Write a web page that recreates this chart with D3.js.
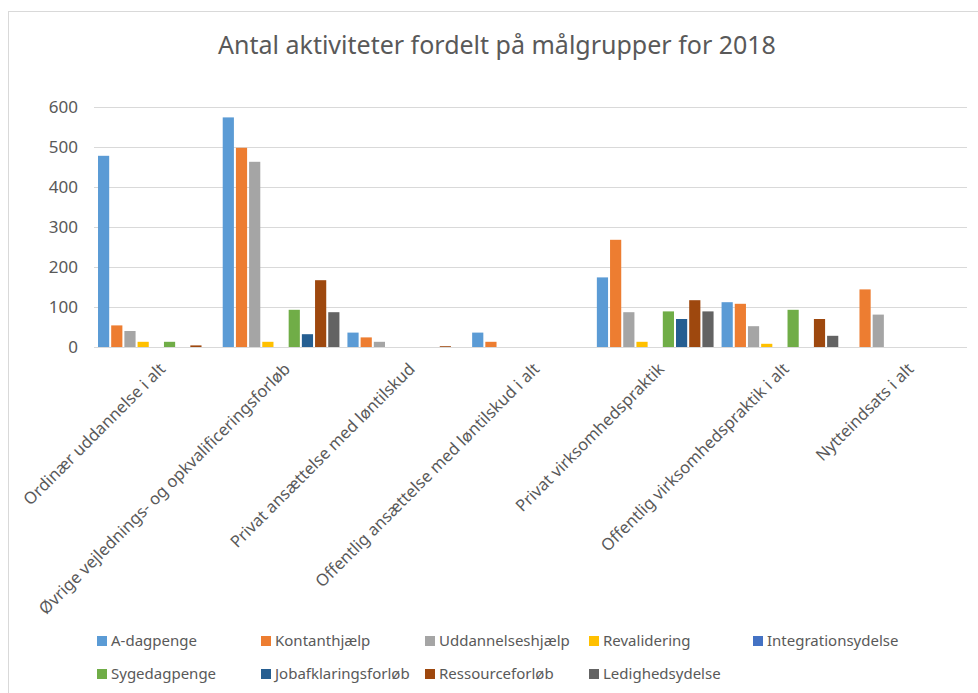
<!DOCTYPE html>
<html>
<head>
<meta charset="utf-8">
<script src="https://cdn.jsdelivr.net/npm/d3@7"></script>
<style>
  body { margin: 0; background: #fff; }
  text { font-family: "Noto Sans", "Open Sans", sans-serif; fill: #595959; }
</style>
</head>
<body>
<div class="chart"></div>
<script>
const categories = [
  "Ordinær uddannelse i alt",
  "Øvrige vejlednings- og opkvalificeringsforløb",
  "Privat ansættelse med løntilskud",
  "Offentlig ansættelse med løntilskud i alt",
  "Privat virksomhedspraktik",
  "Offentlig virksomhedspraktik i alt",
  "Nytteindsats i alt"
];
const seriesNames = ["A-dagpenge", "Kontanthjælp", "Uddannelseshjælp", "Revalidering",
  "Integrationsydelse", "Sygedagpenge", "Jobafklaringsforløb", "Ressourceforløb", "Ledighedsydelse"];
const colors = ["#5B9BD5", "#ED7D31", "#A5A5A5", "#FFC000", "#4472C4", "#70AD47", "#255E91", "#9E480E", "#636363"];

// one array per series, values per category
const aDagpenge        = [478, 574, 36, 36, 174, 112, 0];
const kontanthjaelp    = [54, 498, 24, 13, 268, 108, 144];
const uddannelseshjaelp = [40, 463, 13, 0, 87, 52, 81];
const revalidering     = [13, 13, 0, 0, 13, 8, 0];
const integration      = [0, 0, 0, 0, 0, 0, 0];
const sygedagpenge     = [13, 93, 0, 0, 89, 93, 0];
const jobafklaring     = [0, 32, 0, 0, 70, 0, 0];
const ressource        = [4, 167, 2, 0, 117, 70, 0];
const ledighed         = [0, 87, 0, 0, 89, 28, 0];
const yTicks = [0, 100, 200, 300, 400, 500, 600];

const seriesValues = [aDagpenge, kontanthjaelp, uddannelseshjaelp, revalidering,
  integration, sygedagpenge, jobafklaring, ressource, ledighed];

const width = 978, height = 693;
const plot = { left: 94, right: 967, top: 107, bottom: 347 };

const svg = d3.select(".chart").append("svg")
  .attr("width", width)
  .attr("height", height);

// chart frame
svg.append("rect")
  .attr("x", 8.5).attr("y", 11.5)
  .attr("width", 1000).attr("height", 700)
  .attr("fill", "none").attr("stroke", "#d9d9d9");

svg.append("text")
  .attr("x", 497).attr("y", 54)
  .attr("text-anchor", "middle")
  .style("font-size", "25px")
  .text("Antal aktiviteter fordelt på målgrupper for 2018");

const x = d3.scaleBand()
  .domain(categories)
  .range([plot.left, plot.right])
  .paddingInner(0)
  .paddingOuter(0);

const xInner = d3.scaleBand()
  .domain(seriesNames)
  .range([3, x.bandwidth() - 3]);

const y = d3.scaleLinear()
  .domain([0, 600])
  .range([plot.bottom, plot.top]);

// gridlines
svg.append("g")
  .selectAll("line")
  .data(yTicks)
  .join("line")
  .attr("x1", plot.left).attr("x2", plot.right)
  .attr("y1", d => Math.round(y(d)) + 0.5)
  .attr("y2", d => Math.round(y(d)) + 0.5)
  .attr("stroke", "#d9d9d9");

// y axis labels
svg.append("g")
  .selectAll("text")
  .data(yTicks)
  .join("text")
  .attr("x", 78)
  .attr("y", d => y(d))
  .attr("dy", "0.35em")
  .attr("text-anchor", "end")
  .style("font-size", "17px")
  .text(d => d);

// bars
const groups = svg.append("g")
  .selectAll("g")
  .data(categories)
  .join("g")
  .attr("transform", d => `translate(${x(d)},0)`);

groups.selectAll("rect")
  .data((d, i) => seriesNames.map((s, j) => ({ s, j, v: seriesValues[j][i] })))
  .join("rect")
  .filter(d => d.v > 0)
  .attr("x", d => xInner(d.s) + 1)
  .attr("y", d => y(d.v))
  .attr("width", xInner.bandwidth() - 2)
  .attr("height", d => y(0) - y(d.v))
  .attr("fill", d => colors[d.j]);

// x labels
svg.append("g")
  .selectAll("text")
  .data(categories)
  .join("text")
  .attr("transform", d => `translate(${x(d) + x.bandwidth() / 2 + 6},${plot.bottom + 19}) rotate(-45)`)
  .attr("text-anchor", "end")
  .attr("dy", "0.35em")
  .style("font-size", "16.5px")
  .text(d => d);

// legend
const legend = svg.append("g")
  .selectAll("g")
  .data(seriesNames)
  .join("g")
  .attr("transform", (d, i) => `translate(${97 + (i % 5) * 164},${i < 5 ? 641 : 674})`);

legend.append("rect")
  .attr("x", 0).attr("y", -5)
  .attr("width", 10).attr("height", 10)
  .attr("fill", (d, i) => colors[i]);

legend.append("text")
  .attr("x", 14)
  .attr("dy", "0.35em")
  .style("font-size", "15px")
  .text(d => d);
</script>
</body>
</html>
